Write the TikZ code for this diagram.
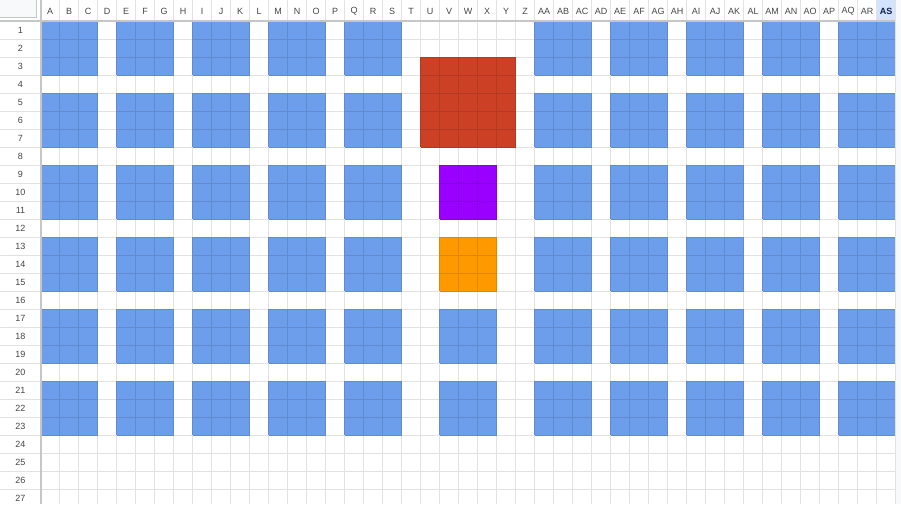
\documentclass[tikz,border=0pt]{standalone}
\usepackage{fontspec}
\setmainfont{Liberation Sans}
\definecolor{cblue}{HTML}{6D9EEB}
\definecolor{cred}{HTML}{CC4125}
\definecolor{cpurple}{HTML}{9900FF}
\definecolor{corange}{HTML}{FF9900}
\definecolor{gridc}{HTML}{E2E2E2}
\definecolor{hdrline}{HTML}{C4C7C5}
\definecolor{hdrtext}{HTML}{444746}
\definecolor{selbg}{HTML}{D3E3FD}
\definecolor{seltext}{HTML}{0B1F4A}
\definecolor{cornerbg}{HTML}{F8F9FA}
\newcommand\cellblock[5]{%
  \fill[#1] ({40.7+19*#2},{21+18*#3}) rectangle ++({19*#4},{18*#5});
  \foreach \k in {0,...,#4}
    \draw[#1!88!black, line width=0.8pt] ({40.7+19*(#2+\k)},{21+18*#3}) -- ++(0,{18*#5});
  \foreach \k in {0,...,#5}
    \draw[#1!88!black, line width=0.8pt] ({40.7+19*#2},{21+18*(#3+\k)}) -- ++({19*#4},0);
}
\tikzset{
  hdr/.style={font=\fontsize{9}{9}\selectfont, text=hdrtext, inner sep=0pt, anchor=center},
  gridline/.style={gridc, line width=0.9pt},
}
\begin{document}
\begin{tikzpicture}[x=1pt,y=-1pt]
\useasboundingbox (0,0) rectangle (901,504);
\fill[white] (0,0) rectangle (901,504);
\begin{scope}
\clip (0,0) rectangle (901,504);
\fill[cornerbg] (896,0) rectangle (901,504);
% selected column header
\fill[selbg] (876.7,0) rectangle (895.7,21);
% grid lines
\foreach \i in {0,...,45}
  \draw[gridline] ({40.7+19*\i},0) -- ({40.7+19*\i},504);
\foreach \j in {1,...,27}
  \draw[gridline] (0,{21+18*\j}) -- (895.7,{21+18*\j});
% blue blocks
\foreach \c in {0,4,8,12,16,26,30,34,38,42}
  \foreach \r in {0,4,8,12,16,20}
    {\cellblock{cblue}{\c}{\r}{3}{3}}
\cellblock{cblue}{21}{16}{3}{3}
\cellblock{cblue}{21}{20}{3}{3}
\cellblock{cred}{20}{2}{5}{5}
\cellblock{cpurple}{21}{8}{3}{3}
\cellblock{corange}{21}{12}{3}{3}
% corner
\fill[cornerbg] (0,0) rectangle (36.5,17.5);
\draw[hdrline, line width=0.8pt] (36.5,0) -- (36.5,17.5) -- (0,17.5);
% header borders
\draw[hdrline, line width=1.6pt] (40.7,0) -- (40.7,504);
\draw[hdrline, line width=1.6pt] (0,21) -- (895.7,21);
\draw[gridline] (895.7,0) -- (895.7,504);
% column letters
\foreach \n [count=\i from 0] in {A,B,C,D,E,F,G,H,I,J,K,L,M,N,O,P,Q,R,S,T,U,V,W,X,Y,Z,AA,AB,AC,AD,AE,AF,AG,AH,AI,AJ,AK,AL,AM,AN,AO,AP,AQ,AR}
  \node[hdr] (col\i) at ({40.7+19*\i+9.5},11) {\n};
\node[hdr, text=seltext, font=\fontsize{9}{9}\selectfont\bfseries] (col44) at (886.2,11) {AS};
% row numbers
\foreach \j in {1,...,27}
  \node[hdr] (row\j) at (20.5,{21+18*(\j-1)+9.5}) {\j};
\end{scope}
\end{tikzpicture}
\end{document}
